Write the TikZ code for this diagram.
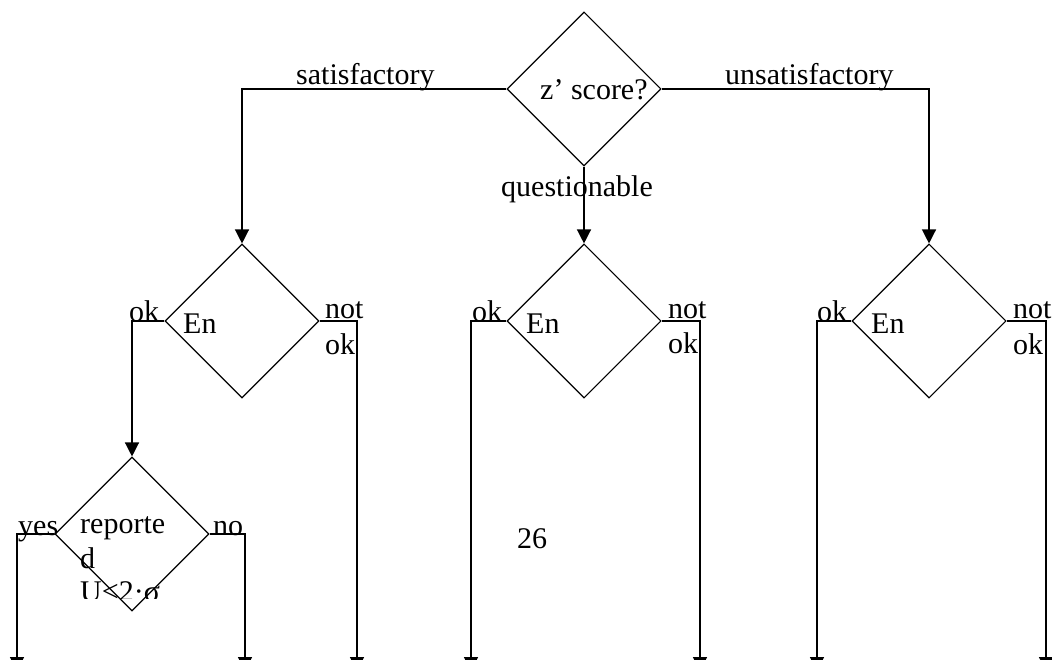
\documentclass[tikz,border=0pt]{standalone}
\usepackage{fontspec}
\setmainfont{Liberation Serif}
\usetikzlibrary{shapes.geometric,arrows.meta}
\begin{document}
\begin{tikzpicture}[x=1pt,y=-1pt,
  dia/.style={draw,shape=diamond,inner sep=0pt,minimum width=154pt,minimum height=154pt,line width=1.1pt},
  conn/.style={line width=1.3pt,-{Triangle[width=14pt,length=14pt]}},
  lbl/.style={anchor=base west,inner sep=0pt,font=\fontsize{30}{35}\selectfont}]
\useasboundingbox (0,0) rectangle (1052,660);
\clip (0,0) rectangle (1052,660);
\fill[white] (0,0) rectangle (1052,660);
% diamonds
\node[dia] (d1) at (584,89) {};
\node[dia] (dL) at (242,321) {};
\node[dia] (dM) at (584,321) {};
\node[dia] (dR) at (929,321) {};
\node[dia] (d3) at (132,534) {};
% free ends
\coordinate (eA) at (17,671);
\coordinate (eB) at (245,671);
\coordinate (eC) at (357,671);
\coordinate (eD) at (471,671);
\coordinate (eE) at (700,671);
\coordinate (eF) at (817,671);
\coordinate (eG) at (1046,671);
% connectors
\draw[conn] (d1.west) -| (dL.north);
\draw[conn] (d1.east) -| (dR.north);
\draw[conn] (d1.south) -- (dM.north);
\draw[conn] (dL.west) -| (d3.north);
\draw[conn] (dL.east) -| (eC);
\draw[conn] (d3.west) -| (eA);
\draw[conn] (d3.east) -| (eB);
\draw[conn] (dM.west) -| (eD);
\draw[conn] (dM.east) -| (eE);
\draw[conn] (dR.west) -| (eF);
\draw[conn] (dR.east) -| (eG);
% labels
\node[lbl] (t1) at (540,100) {z’ score?};
\node[lbl] (sat) at (296,85) {satisfactory};
\node[lbl] (unsat) at (725,85) {unsatisfactory};
\node[lbl] (q) at (501,197) {questionable};
\node[lbl] (enL) at (183,333) {En};
\node[lbl] (enM) at (526,333) {En};
\node[lbl] (enR) at (871,333) {En};
\node[lbl] (okL) at (129,322) {ok};
\node[lbl] (okM) at (472,322) {ok};
\node[lbl] (okR) at (817,322) {ok};
\node[lbl] (notL) at (325,319) {not};
\node[lbl] (notM) at (668,319) {not};
\node[lbl] (notR) at (1013,319) {not};
\node[lbl] (nokL) at (325,354) {ok};
\node[lbl] (nokM) at (668,353) {ok};
\node[lbl] (nokR) at (1013,354) {ok};
\node[lbl] (yes) at (18,535) {yes};
\node[lbl] (no) at (213,535) {no};
\node[lbl] (r1) at (80,533) {reporte};
\node[lbl] (r2) at (80,568) {d};
\begin{scope}
\clip (60,560) rectangle (200,598);
\node[lbl] (r3) at (80,601) {U<2·σ};
\end{scope}
\node[lbl] (pg) at (517,548) {26};
\end{tikzpicture}
\end{document}
